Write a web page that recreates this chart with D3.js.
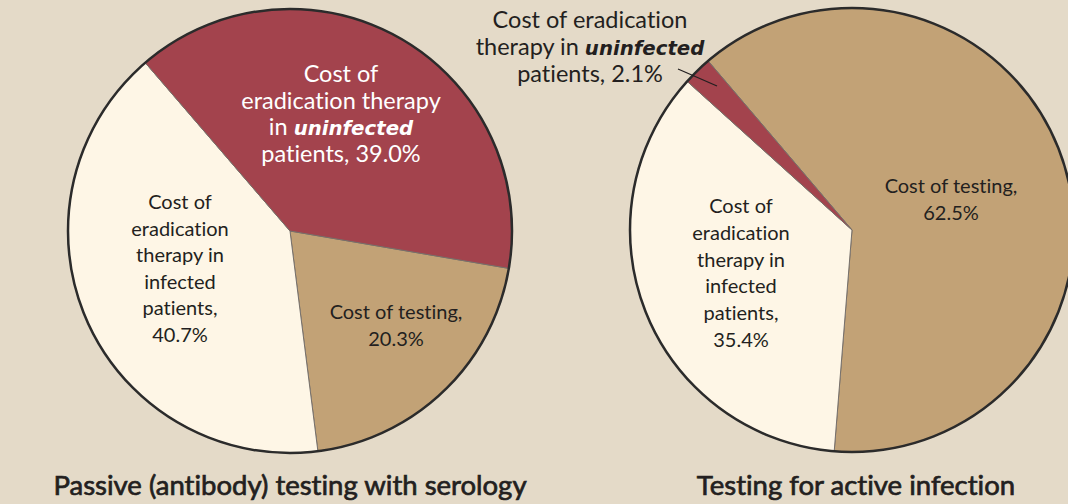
<!DOCTYPE html>
<html>
<head>
<meta charset="utf-8">
<script src="https://cdn.jsdelivr.net/npm/d3@7"></script>
<style>
  body { margin: 0; background: #e4dac8; overflow: hidden; }
  svg { display: block; }
  .lbl { font-family: "Lato", sans-serif; font-variant-ligatures: none; font-feature-settings: "liga" 0; }
</style>
</head>
<body>
<div class="canva"></div>
<script>
// slice order goes clockwise from the start angle
const categories = ['Cost of testing', 'Cost of eradication therapy in infected patients', 'Cost of eradication therapy in uninfected patients'];
const serologyValues = [20.3, 40.7, 39.0];
const activeValues = [62.5, 35.4, 2.1];
const chartTitles = ['Passive (antibody) testing with serology', 'Testing for active infection'];

const colors = ['#c2a276', '#fef6e6', '#a3434d'];

const W = 1068, H = 504, R = 222;

const svg = d3.select('.canva').append('svg')
    .attr('width', W)
    .attr('height', H);

const arc = d3.arc().innerRadius(0).outerRadius(R);

function drawPie(values, cx, cy, startDeg) {
    const start = startDeg * Math.PI / 180;
    const pie = d3.pie().sort(null).startAngle(start).endAngle(start + 2 * Math.PI);
    const g = svg.append('g').attr('transform', `translate(${cx},${cy})`);
    g.selectAll('path')
        .data(pie(values))
        .enter().append('path')
        .attr('d', arc)
        .attr('fill', (d, i) => colors[i])
        .attr('stroke', '#77706a')
        .attr('stroke-width', 1);
    g.append('circle')
        .attr('r', R)
        .attr('fill', 'none')
        .attr('stroke', '#2b2b2b')
        .attr('stroke-width', 2.5);
    return g;
}

// lines: array of arrays of [text, italic?]
function label(x, y, lines, size, fill, lh) {
    const t = svg.append('text')
        .attr('class', 'lbl')
        .attr('text-anchor', 'middle')
        .attr('font-size', size)
        .attr('fill', fill);
    lines.forEach((parts, i) => {
        const line = t.append('tspan').attr('x', x).attr('y', y + i * lh);
        parts.forEach(p => {
            const s = line.append('tspan').text(p[0]);
            if (p[1]) {
                s.attr('font-family', '"DejaVu Sans", Verdana, sans-serif')
                 .attr('font-weight', 'bold')
                 .attr('font-style', 'italic')
                 .attr('font-size', size * 0.84);
            }
        });
    });
}

// left pie
drawPie(serologyValues, 290, 231, 99.7);
label(341, 82, [[['Cost of']], [['eradication therapy']], [['in '], ['uninfected', true]], [['patients, ' + serologyValues[2].toFixed(1) + '%']]], 23.5, '#ffffff', 26.7);
label(180, 209, [[['Cost of']], [['eradication']], [['therapy in']], [['infected']], [['patients,']], [[serologyValues[1].toFixed(1) + '%']]], 20, '#231f20', 26.6);
label(396, 319, [[['Cost of testing,']], [[serologyValues[0].toFixed(1) + '%']]], 20, '#231f20', 27);

// right pie
const start2 = -40.4;
drawPie(activeValues, 852, 230, start2);
label(951, 193, [[['Cost of testing,']], [[activeValues[0].toFixed(1) + '%']]], 20, '#231f20', 27);
label(741, 213, [[['Cost of']], [['eradication']], [['therapy in']], [['infected']], [['patients,']], [[activeValues[1].toFixed(1) + '%']]], 20, '#231f20', 26.8);
label(590, 28, [[['Cost of eradication']], [['therapy in '], ['uninfected', true]], [['patients, ' + activeValues[2].toFixed(1) + '%']]], 23.5, '#231f20', 27);

svg.append('line')
    .attr('x1', 678).attr('y1', 69)
    .attr('x2', 717).attr('y2', 86)
    .attr('stroke', '#231f20')
    .attr('stroke-width', 1.3);

// titles
svg.selectAll('.title')
    .data(chartTitles)
    .enter().append('text')
    .attr('class', 'lbl title')
    .attr('x', (d, i) => i === 0 ? 290 : 856)
    .attr('y', 495)
    .attr('text-anchor', 'middle')
    .attr('font-size', 27.5)
    .attr('fill', '#231f20')
    .attr('stroke', '#231f20')
    .attr('stroke-width', 0.7)
    .text(d => d);
</script>
</body>
</html>
